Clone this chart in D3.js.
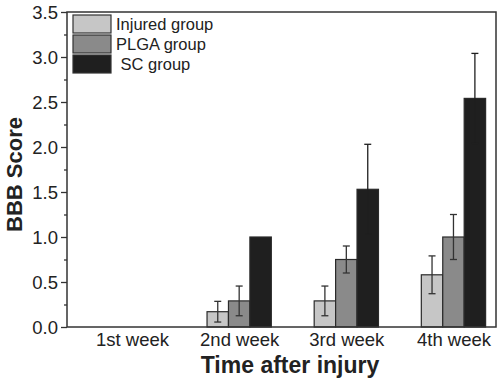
<!DOCTYPE html>
<html>
<head>
<meta charset="utf-8">
<script src="https://cdn.jsdelivr.net/npm/d3@7"></script>
<style>
  body { margin: 0; background: #fff; }
  text { font-family: "Liberation Sans", Arial, sans-serif; fill: #222; }
</style>
</head>
<body>
<script>
// data
let weeks = ['1st week', '2nd week', '3rd week', '4th week'];
let groups = ['Injured group', 'PLGA group', ' SC group'];
let injured = [0, 0.17, 0.29, 0.58];
let injuredErr = [0, 0.115, 0.165, 0.21];
let plga = [0, 0.29, 0.75, 1.0];
let plgaErr = [0, 0.165, 0.15, 0.25];
let sc = [0, 1.0, 1.53, 2.54];
let scErr = [0, 0, 0.5, 0.5];
let yTicks = [0, 0.5, 1.0, 1.5, 2.0, 2.5, 3.0, 3.5];

let colors = ['#c6c6c6', '#8a8a8a', '#1f1f1f'];

let margin = {top: 12, right: 4, bottom: 56, left: 67};
let width = 500 - (margin.left + margin.right);
let height = 383 - (margin.top + margin.bottom);

let xScale = d3.scaleLinear()
                .domain([0.393, 4.397])
                .range([0, width]);

let yScale = d3.scaleLinear()
                .domain([0, 3.5])
                .range([height, 0]);

let svg = d3.select('body').append('svg')
                .attr('width', 500)
                .attr('height', 383)
        .append('g')
                .attr('transform', 'translate(' + margin.left + ', ' + margin.top + ')');

// bars
let barW = xScale(1.2) - xScale(1);
let series = [
  {vals: injured, errs: injuredErr},
  {vals: plga, errs: plgaErr},
  {vals: sc, errs: scErr}
];

function cx(d, si){ return xScale(d.i + 1 + (si - 1) * 0.2); }

series.forEach(function(s, si){
  let rows = weeks.map(function(w, i){ return {i: i, v: s.vals[i], e: s.errs[i]}; })
                  .filter(function(d){ return d.v > 0; });

  svg.selectAll('.bar' + si)
      .data(rows)
    .enter().append('rect')
      .attr('x', function(d){ return cx(d, si) - barW / 2; })
      .attr('y', function(d){ return yScale(d.v); })
      .attr('width', barW)
      .attr('height', function(d){ return height - yScale(d.v); })
      .attr('fill', colors[si])
      .attr('stroke', '#2a2a2a')
      .attr('stroke-width', 1.2);

  let errs = rows.filter(function(d){ return d.e > 0; });
  let eg = svg.selectAll('.err' + si)
      .data(errs)
    .enter().append('g')
      .attr('stroke', si == 2 ? '#1f1f1f' : '#333')
      .attr('stroke-width', 1.3);
  eg.append('line')
      .attr('x1', function(d){ return cx(d, si); })
      .attr('x2', function(d){ return cx(d, si); })
      .attr('y1', function(d){ return yScale(d.v + d.e); })
      .attr('y2', function(d){ return yScale(d.v - d.e); });
  [1, -1].forEach(function(sign){
    eg.append('line')
        .attr('x1', function(d){ return cx(d, si) - 3.5; })
        .attr('x2', function(d){ return cx(d, si) + 3.5; })
        .attr('y1', function(d){ return yScale(d.v + sign * d.e); })
        .attr('y2', function(d){ return yScale(d.v + sign * d.e); });
  });
});

// frame
svg.append('rect')
    .attr('width', width)
    .attr('height', height)
    .attr('fill', 'none')
    .attr('stroke', '#333')
    .attr('stroke-width', 1.5);

// y axis with minor ticks
let minor = d3.range(0.25, 3.5, 0.5);
svg.append('g')
    .attr('class', 'minor')
    .call(d3.axisLeft(yScale).tickValues(minor).tickSize(3).tickFormat(''))
    .call(function(g){ g.select('.domain').remove(); })
    .selectAll('line').attr('stroke', '#333').attr('stroke-width', 1.3);

let yAx = svg.append('g')
    .call(d3.axisLeft(yScale).tickValues(yTicks).tickSize(6).tickPadding(3)
          .tickFormat(d3.format('.1f')));
yAx.select('.domain').remove();
yAx.selectAll('line').attr('stroke', '#333').attr('stroke-width', 1.3);
yAx.selectAll('text')
    .style('font-size', '18.5px')
    .attr('fill', '#222')
    .attr('dy', '0.36em');

// x axis labels
let xAx = svg.append('g')
    .attr('transform', 'translate(0, ' + height + ')')
    .call(d3.axisBottom(xScale).tickValues([1, 2, 3, 4]).tickSize(0).tickPadding(6)
          .tickFormat(function(d){ return weeks[d - 1]; }));
xAx.select('.domain').remove();
xAx.selectAll('text')
    .style('font-size', '18.5px')
    .attr('fill', '#222');

// axis titles
svg.append('text')
    .attr('x', 223)
    .attr('y', height + 46)
    .attr('text-anchor', 'middle')
    .style('font-size', '23px')
    .style('font-weight', 'bold')
    .text('Time after injury');

svg.append('text')
    .attr('transform', 'translate(' + (-45) + ', ' + (height / 2 + 5) + ') rotate(-90)')
    .attr('text-anchor', 'middle')
    .style('font-size', '22px')
    .style('font-weight', 'bold')
    .text('BBB Score');

// legend
let legend = svg.append('g')
    .attr('transform', 'translate(6, 3)');
let items = legend.selectAll('g')
    .data(groups)
  .enter().append('g')
    .attr('transform', function(d, i){ return 'translate(0, ' + (i * 20) + ')'; });
items.append('rect')
    .attr('width', 38)
    .attr('height', 18)
    .attr('fill', function(d, i){ return colors[i]; })
    .attr('stroke', '#333')
    .attr('stroke-width', 1.2);
items.append('text')
    .attr('x', 43)
    .attr('y', 15)
    .attr('xml:space', 'preserve')
    .style('white-space', 'pre')
    .style('font-size', '16.5px')
    .text(function(d){ return d; });
</script>
</body>
</html>
